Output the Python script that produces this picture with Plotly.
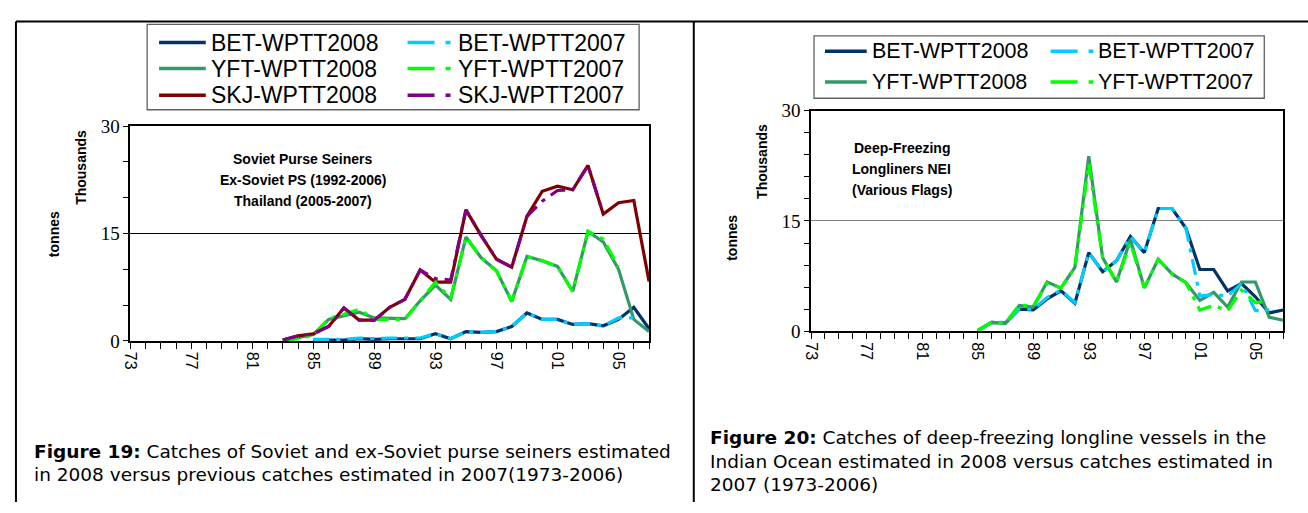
import plotly.graph_objects as go

W, H = 1308, 513

# ---------------- data (thousand tonnes) ----------------
# Figure 19: Soviet / ex-Soviet purse seiners
years_L08 = list(range(1983, 2008))
skj08_L = [0.1, 0.7, 1.0, 2.0, 4.6, 2.9, 2.9, 4.7, 5.8, 9.9, 8.2, 8.2, 18.3, 14.7, 11.4,
           10.3, 17.4, 20.9, 21.6, 21.1, 24.5, 17.7, 19.3, 19.6, 8.3]
yft08_L = [0.0, 0.4, 0.9, 3.0, 3.5, 4.0, 3.2, 3.2, 3.1, 5.6, 7.8, 5.8, 14.5, 11.6, 9.8,
           5.5, 11.8, 11.2, 10.4, 6.9, 15.3, 13.8, 10.0, 3.0, 1.3]
years_L07_skj = list(range(1983, 2005))
skj07_L = [0.1, 0.7, 1.0, 2.0, 4.6, 2.9, 2.9, 4.7, 5.8, 9.9, 8.7, 8.5, 18.3, 14.7, 11.4,
           10.3, 17.4, 19.5, 21.0, 21.1, 24.5, 17.7]
years_L07_yft = list(range(1983, 2006))
yft07_L = [0.0, 0.3, 0.8, 3.1, 3.7, 4.4, 3.0, 3.0, 3.0, 5.6, 8.2, 5.9, 14.5, 11.6, 9.8,
           5.5, 11.8, 11.2, 10.4, 6.9, 15.3, 14.2, 10.3]
years_L08_bet = list(range(1985, 2008))
bet08_L = [0.1, 0.1, 0.1, 0.3, 0.2, 0.3, 0.3, 0.3, 1.0, 0.3, 1.3, 1.2, 1.3, 2.0, 3.9,
           3.0, 3.0, 2.3, 2.4, 2.1, 3.0, 4.7, 1.7]
years_L07_bet = list(range(1985, 2007))
bet07_L = [0.2, 0.2, 0.2, 0.4, 0.3, 0.4, 0.4, 0.4, 1.0, 0.3, 1.3, 1.2, 1.3, 2.0, 3.9,
           3.0, 3.0, 2.3, 2.4, 2.1, 3.2, 3.2]

# Figure 20: deep-freezing longliners NEI
years_R08 = list(range(1985, 2008))
bet08_R = [0.1, 1.2, 1.1, 3.0, 2.9, 4.4, 5.5, 3.8, 10.7, 8.1, 9.6, 12.9, 10.7, 16.7, 16.7,
           14.0, 8.4, 8.4, 5.5, 6.5, 4.7, 2.5, 2.9]
yft08_R = [0.1, 1.2, 1.1, 3.5, 3.3, 6.7, 5.9, 8.7, 23.8, 10.0, 6.7, 12.5, 5.9, 9.8, 7.8,
           6.6, 4.2, 5.3, 3.3, 6.7, 6.7, 1.9, 1.5]
years_R07 = list(range(1985, 2007))
bet07_R = [0.1, 1.2, 1.2, 3.0, 3.0, 4.6, 5.6, 3.9, 10.7, 8.1, 9.6, 12.9, 10.7, 16.7, 16.7,
           14.0, 4.8, 5.0, 4.8, 6.5, 2.8, 2.9]
yft07_R = [0.1, 1.2, 1.1, 3.6, 3.4, 6.5, 5.9, 8.7, 22.8, 10.0, 6.7, 12.0, 5.9, 9.8, 7.8,
           6.6, 2.9, 3.5, 2.8, 5.6, 3.9, 4.1]

tick_years = list(range(1973, 2007, 4))
tick_labels = [f"{y % 100:02d}" for y in tick_years]

# ---------------- styles ----------------
C_BET08, C_BET07 = "#003366", "#00CCFF"
C_YFT08, C_YFT07 = "#339966", "#00FF00"
C_SKJ08, C_SKJ07 = "#800000", "#800080"
DASH = "16px,7px,4px,7px"
LEG_DASH = "27px,11px,5px,60px"
LW = 3.2


def px_x(p):
    return p / W


def px_y(p):
    return 1 - p / H


fig = go.Figure()
legend_items = []  # (name, color, dash, panel, col, row)


def add(x, y, name, color, dash, xa, ya, panel, col, row):
    fig.add_trace(go.Scatter(
        x=x, y=y, name=name, mode="lines", showlegend=False,
        line=dict(color=color, width=LW, dash=dash),
        xaxis=xa, yaxis=ya, hoverinfo="skip"))
    legend_items.append((name, color, dash, panel, col, row))


# left chart
add(years_L08_bet, bet08_L, "BET-WPTT2008", C_BET08, "solid", "x", "y", "L", 0, 0)
add(years_L08, yft08_L, "YFT-WPTT2008", C_YFT08, "solid", "x", "y", "L", 0, 1)
add(years_L08, skj08_L, "SKJ-WPTT2008", C_SKJ08, "solid", "x", "y", "L", 0, 2)
add(years_L07_bet, bet07_L, "BET-WPTT2007", C_BET07, DASH, "x", "y", "L", 1, 0)
add(years_L07_yft, yft07_L, "YFT-WPTT2007", C_YFT07, DASH, "x", "y", "L", 1, 1)
add(years_L07_skj, skj07_L, "SKJ-WPTT2007", C_SKJ07, DASH, "x", "y", "L", 1, 2)
# right chart
add(years_R08, bet08_R, "BET-WPTT2008", C_BET08, "solid", "x2", "y2", "R", 0, 0)
add(years_R08, yft08_R, "YFT-WPTT2008", C_YFT08, "solid", "x2", "y2", "R", 0, 1)
add(years_R07, bet07_R, "BET-WPTT2007", C_BET07, DASH, "x2", "y2", "R", 1, 0)
add(years_R07, yft07_R, "YFT-WPTT2007", C_YFT07, DASH, "x2", "y2", "R", 1, 1)


def xaxis(dom, anchor):
    return dict(domain=dom, range=[1973, 2007], tickmode="array", tickvals=tick_years,
                ticktext=tick_labels, tickangle=90, ticks="outside", ticklen=6,
                tickcolor="black", showline=True, linecolor="black", linewidth=1.5,
                mirror=True, showgrid=False, zeroline=False, anchor=anchor,
                tickfont=dict(family="Liberation Sans", size=16, color="black"),
                minor=dict(dtick=1, tick0=1973, ticks="outside", ticklen=6,
                           tickcolor="black", showgrid=False))


def yaxis(dom, anchor, minor_dt, gridcolor):
    return dict(domain=dom, range=[0, 30], dtick=15, tick0=0, ticks="outside", ticklen=5,
                tickcolor="black", showline=True, linecolor="black", linewidth=1.5,
                mirror=True, showgrid=True, gridcolor=gridcolor, gridwidth=1.3,
                zeroline=False, anchor=anchor,
                tickfont=dict(family="Liberation Serif", size=19, color="black"),
                minor=dict(dtick=minor_dt, tick0=0, ticks="outside", ticklen=5,
                           tickcolor="black", showgrid=False))


fig.update_layout(
    width=W, height=H, margin=dict(l=0, r=0, t=0, b=0),
    paper_bgcolor="white", plot_bgcolor="white", showlegend=False,
    xaxis=xaxis([px_x(123), px_x(645)], "y"),
    yaxis=yaxis([px_y(345), px_y(121)], "x", 5, "black"),
    xaxis2=xaxis([px_x(808), px_x(1283)], "y2"),
    yaxis2=yaxis([px_y(335), px_y(105)], "x2", 3, "#808080"),
)

shapes = []
ann = []

line_k = dict(color="black", width=2)
# panel frames
shapes.append(dict(type="line", xref="paper", yref="paper", x0=px_x(8), x1=1, y0=px_y(12), y1=px_y(12), line=line_k))
shapes.append(dict(type="line", xref="paper", yref="paper", x0=px_x(8), x1=px_x(8), y0=px_y(12), y1=0, line=line_k))
shapes.append(dict(type="line", xref="paper", yref="paper", x0=px_x(690), x1=px_x(690), y0=px_y(12), y1=0, line=line_k))
# legend boxes
box = dict(color="#606060", width=1.3)
shapes.append(dict(type="rect", xref="paper", yref="paper", x0=px_x(140), x1=px_x(635), y0=px_y(15), y1=px_y(104), line=box))
shapes.append(dict(type="rect", xref="paper", yref="paper", x0=px_x(811), x1=px_x(1264), y0=px_y(27), y1=px_y(92), line=box))

# legend layout (pixel positions of sample start/end and text start per column, row centres)
leg_geom = {
    "L": dict(cols=[(152, 199, 202), (402, 446, 451)], rows=[34, 61, 89], size=23),
    "R": dict(cols=[(822, 864, 867), (1049, 1092, 1095)], rows=[43, 75], size=21.5),
}


def text(x, y, s, size=14, family="Liberation Sans", xanchor="center", angle=0, bold=False):
    ann.append(dict(x=px_x(x), y=px_y(y), xref="paper", yref="paper",
                    text=(f"<b>{s}</b>" if bold else s),
                    showarrow=False, xanchor=xanchor, yanchor="middle", textangle=angle,
                    font=dict(family=family, size=size, color="black")))


for name, color, dash, panel, col, row in legend_items:
    g = leg_geom[panel]
    x0, x1, xt = g["cols"][col]
    yy = g["rows"][row]
    shapes.append(dict(type="line", xref="paper", yref="paper", x0=px_x(x0), x1=px_x(x1),
                       y0=px_y(yy), y1=px_y(yy),
                       line=dict(color=color, width=3.5,
                                 dash=("solid" if dash == "solid" else LEG_DASH))))
    text(xt, yy, name, g["size"], "Liberation Sans", "left")

# chart titles
text(297, 155, "Soviet Purse Seiners", 14, bold=True)
text(297, 177, "Ex-Soviet PS (1992-2006)", 14, bold=True)
text(297, 199, "Thailand (2005-2007)", 14, bold=True)
text(899, 144, "Deep-Freezing", 14, bold=True)
text(899, 166, "Longliners NEI", 14, bold=True)
text(899, 188, "(Various Flags)", 14, bold=True)
# axis titles
text(74, 164, "Thousands", 14, angle=-90, bold=True)
text(47, 234, "tonnes", 14, angle=-90, bold=True)
text(758, 158, "Thousands", 14, angle=-90, bold=True)
text(729, 238, "tonnes", 14, angle=-90, bold=True)
# captions
cap = "DejaVu Sans"
text(24, 460, "<b>Figure 19:</b> Catches of Soviet and ex-Soviet purse seiners estimated", 18.5, cap, "left")
text(24, 484, "in 2008 versus previous catches estimated in 2007(1973-2006)", 18.5, cap, "left")
text(704, 446, "<b>Figure 20:</b> Catches of deep-freezing longline vessels in the", 18.5, cap, "left")
text(704, 471, "Indian Ocean estimated in 2008 versus catches estimated in", 18.5, cap, "left")
text(704, 495, "2007 (1973-2006)", 18.5, cap, "left")

fig.update_layout(shapes=shapes, annotations=ann)

fig.write_html(
    "out.html",
    config={"displayModeBar": False},
    post_script="document.body.style.margin='0';document.body.style.overflow='hidden';",
)
